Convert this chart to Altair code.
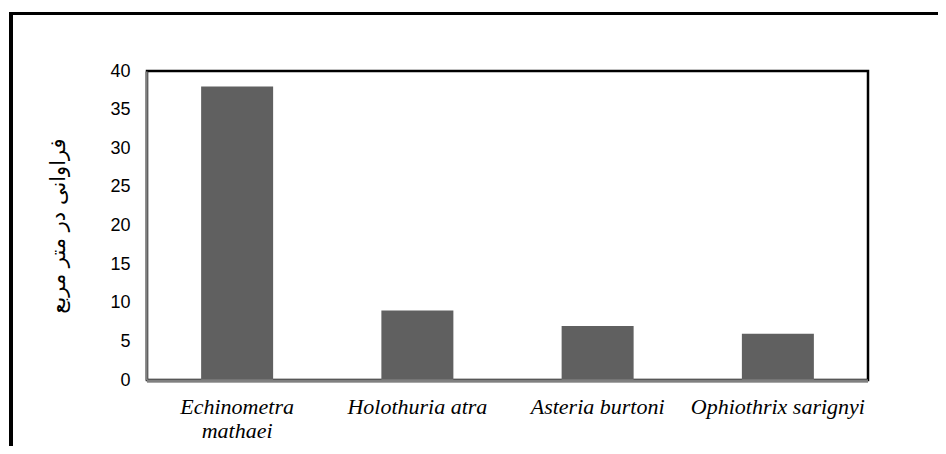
import altair as alt
import pandas as pd

species = ["Echinometra mathaei", "Holothuria atra", "Asteria burtoni", "Ophiothrix sarignyi"]
abundance = [38, 9, 7, 6]
y_ticks = [0, 5, 10, 15, 20, 25, 30, 35, 40]
y_title = "فراوانی در متر مربع"

df = pd.DataFrame({"species": species, "abundance": abundance})

W, H = 721, 309

bars = alt.Chart(df).mark_bar(size=72, color="#606060").encode(
    x=alt.X(
        "species:N",
        sort=species,
        scale=alt.Scale(paddingInner=0, paddingOuter=0),
        axis=None,
    ),
    y=alt.Y(
        "abundance:Q",
        scale=alt.Scale(domain=[0, 40], nice=False),
        axis=alt.Axis(
            values=y_ticks,
            title=y_title,
            titleFont="DejaVu Sans",
            titleFontSize=21,
            titleFontWeight="normal",
            titleColor="black",
            titleAngle=270,
            titleX=-88,
            titleY=H / 2,
            titleAlign="center",
            titleBaseline="middle",
            ticks=False,
            grid=False,
            labelFont="Liberation Sans",
            labelFontSize=18,
            labelColor="black",
            labelPadding=16,
            domainColor="#808080",
            domainWidth=2.5,
            offset=1,
        ),
    ),
)

# x-axis line (bottom domain)
x_domain = alt.Chart(df).mark_rule(color="#808080", strokeWidth=2.5, clip=False).encode(
    x=alt.value(0), x2=alt.value(W), y=alt.value(H + 1)
)

# category labels drawn as text marks through the band scale
labels_df = pd.DataFrame({
    "species": species,
    "line1": ["Echinometra", "Holothuria atra", "Asteria burtoni", "Ophiothrix sarignyi"],
    "line2": ["mathaei", "", "", ""],
})
lab1 = alt.Chart(labels_df).mark_text(
    font="Liberation Serif", fontStyle="italic", fontSize=22, color="black",
    baseline="alphabetic", align="center", clip=False,
).encode(
    x=alt.X("species:N", sort=species), y=alt.value(H + 34), text="line1:N"
)
lab2 = alt.Chart(labels_df).mark_text(
    font="Liberation Serif", fontStyle="italic", fontSize=22, color="black",
    baseline="alphabetic", align="center", clip=False,
).encode(
    x=alt.X("species:N", sort=species), y=alt.value(H + 58), text="line2:N"
)

frame_top = alt.Chart(df).mark_rule(color="black", strokeWidth=3, clip=False).encode(
    x=alt.value(-138), x2=alt.value(791), y=alt.value(-57.5)
)
frame_left = alt.Chart(df).mark_rule(color="black", strokeWidth=4, clip=False).encode(
    x=alt.value(-136), y=alt.value(-59), y2=alt.value(375)
)

chart = alt.layer(bars, x_domain, lab1, lab2, frame_top, frame_left).properties(
    width=W,
    height=H,
    autosize=alt.AutoSizeParams(type="none"),
    padding={"left": 139, "top": 63, "right": 70, "bottom": 66},
).configure_view(stroke="black", strokeWidth=2.5)

chart.save("out.html", embed_options={"renderer": "svg", "actions": False})
